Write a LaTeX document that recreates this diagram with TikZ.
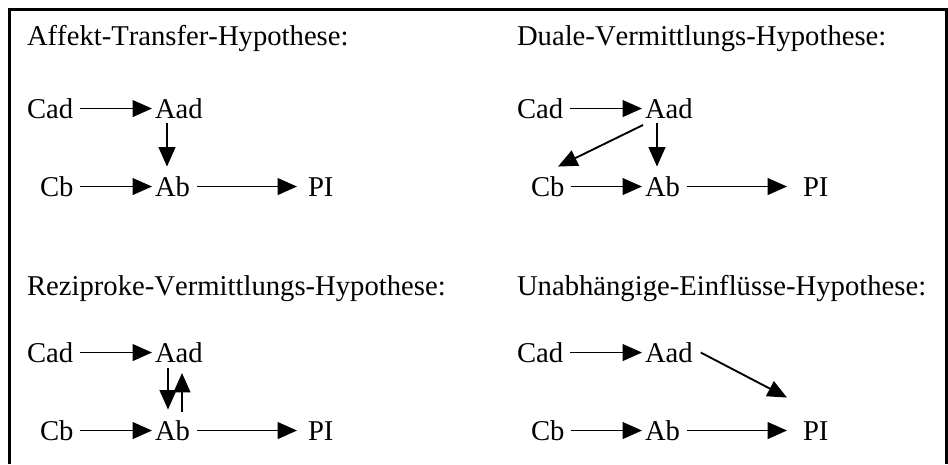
\documentclass[tikz,border=0pt]{standalone}
\usepackage{fontspec}
\setmainfont{Liberation Serif}[Kerning=Off,Ligatures=NoCommon]
\usetikzlibrary{arrows.meta,calc}
\begin{document}
\begin{tikzpicture}[x=0.75pt,y=-0.75pt,
  lbl/.style={inner sep=0pt, outer sep=0pt, anchor=base west,
    font=\fontsize{21.5}{25}\selectfont, text height=14.2pt, text depth=0pt},
  ttl/.style={inner sep=0pt, outer sep=0pt, anchor=base west,
    font=\fontsize{21.5}{25}\selectfont},
  arr/.style={line width=1.4pt, -{Triangle[length=14.5pt,width=12.5pt]}},
  frame/.style={line width=2pt}
]
\useasboundingbox (0,0) rectangle (948,464);
\draw[frame] (9.5,464) -- (9.5,9.5) -- (946.5,9.5) -- (946.5,464);

% ---------- Panel 1: Affekt-Transfer ----------
\node[ttl] (t1) at (27,45) {Affekt-Transfer-Hypothese:};
\node[lbl] (cad1) at (27,118) {Cad};
\node[lbl] (aad1) at (155,118) {Aad};
\node[lbl] (cb1) at (40,196) {Cb};
\node[lbl] (ab1) at (155,196) {Ab};
\node[lbl] (pi1) at (308,196) {PI};
\draw[arr] ($(cad1.east)+(7,0)$) -- ($(aad1.west)+(-3,0)$);
\draw[arr] ($(cb1.east)+(7,0)$) -- ($(ab1.west)+(-3,0)$);
\draw[arr] ($(ab1.east)+(7,0)$) -- ($(pi1.west)+(-11,0)$);
\draw[arr] ($(aad1.south west)+(12,5)$) -- ($(ab1.north west)+(12,-10.5)$);

% ---------- Panel 2: Duale-Vermittlung ----------
\node[ttl] (t2) at (517,45) {Duale-Vermittlungs-Hypothese:};
\node[lbl] (cad2) at (517,118) {Cad};
\node[lbl] (aad2) at (645,118) {Aad};
\node[lbl] (cb2) at (531,196) {Cb};
\node[lbl] (ab2) at (645,196) {Ab};
\node[lbl] (pi2) at (803,196) {PI};
\draw[arr] ($(cad2.east)+(7,0)$) -- ($(aad2.west)+(-3,0)$);
\draw[arr] ($(cb2.east)+(7,0)$) -- ($(ab2.west)+(-3,0)$);
\draw[arr] ($(ab2.east)+(7,0)$) -- ($(pi2.west)+(-16,0)$);
\draw[arr] ($(aad2.south west)+(12,5)$) -- ($(ab2.north west)+(12,-10.5)$);
\draw[arr] ($(aad2.south west)+(-2,7)$) -- ($(cb2.north west)+(27,-10.5)$);

% ---------- Panel 3: Reziproke-Vermittlung ----------
\node[ttl] (t3) at (27,295) {Reziproke-Vermittlungs-Hypothese:};
\node[lbl] (cad3) at (27,362) {Cad};
\node[lbl] (aad3) at (155,362) {Aad};
\node[lbl] (cb3) at (40,440) {Cb};
\node[lbl] (ab3) at (155,440) {Ab};
\node[lbl] (pi3) at (308,440) {PI};
\draw[arr] ($(cad3.east)+(7,0)$) -- ($(aad3.west)+(-3,0)$);
\draw[arr] ($(cb3.east)+(7,0)$) -- ($(ab3.west)+(-3,0)$);
\draw[arr] ($(ab3.east)+(7,0)$) -- ($(pi3.west)+(-11,0)$);
\draw[arr] ($(aad3.south west)+(13,6)$) -- ($(ab3.north west)+(13,-11.5)$);
\draw[arr] ($(ab3.north west)+(27,-9.5)$) -- ($(aad3.south west)+(27,11)$);

% ---------- Panel 4: Unabhaengige Einfluesse ----------
\node[ttl] (t4) at (517,295) {Unabhängige-Einflüsse-Hypothese:};
\node[lbl] (cad4) at (517,362) {Cad};
\node[lbl] (aad4) at (645,362) {Aad};
\node[lbl] (cb4) at (531,440) {Cb};
\node[lbl] (ab4) at (645,440) {Ab};
\node[lbl] (pi4) at (803,440) {PI};
\draw[arr] ($(cad4.east)+(7,0)$) -- ($(aad4.west)+(-3,0)$);
\draw[arr] ($(cb4.east)+(7,0)$) -- ($(ab4.west)+(-3,0)$);
\draw[arr] ($(ab4.east)+(7,0)$) -- ($(pi4.west)+(-16,0)$);
\draw[arr] ($(aad4.east)+(8,0)$) -- ($(pi4.north west)+(-16,-23.5)$);
\end{tikzpicture}
\end{document}
